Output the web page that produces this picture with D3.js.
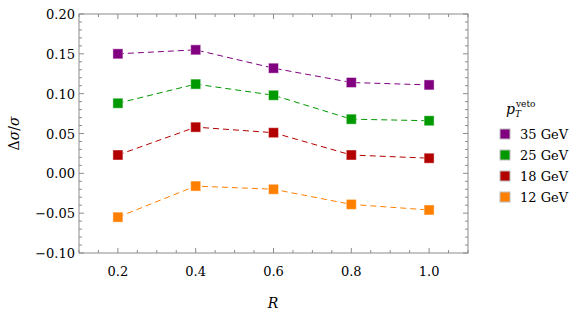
<!doctype html>
<html lang='en'>
  <head>
    <meta charset="utf-8">
    <script src="https://d3js.org/d3.v7.min.js"></script>
    <title>Delta sigma vs R</title>
  <style>
  body{
    margin: 0;
    background: white;
  }
  svg text {
    font-family: "DejaVu Serif", serif !important;
  }
  </style>
  </head>
  <body>
    <div id='chart'></div>
    <script>
    // data
    const rValues = [0.2, 0.4, 0.6, 0.8, 1.0];
    const vetoLabels = ['35 GeV', '25 GeV', '18 GeV', '12 GeV'];
    const pt35 = [0.150, 0.155, 0.132, 0.114, 0.111];
    const pt25 = [0.088, 0.112, 0.098, 0.068, 0.066];
    const pt18 = [0.023, 0.058, 0.051, 0.023, 0.019];
    const pt12 = [-0.055, -0.016, -0.020, -0.039, -0.046];
    const xTicks = [0.2, 0.4, 0.6, 0.8, 1.0];
    const yTicks = [-0.10, -0.05, 0.00, 0.05, 0.10, 0.15, 0.20];

    const colors = ['#800080', '#009900', '#b30000', '#ff8000'];
    const series = [pt35, pt25, pt18, pt12];

    const wsvg = 581, hsvg = 315;
    const padLeft = 79, padRight = 468, padTop = 14, padBottom = 253;
    const fontSize = 13;

    const svg = d3.select('#chart')
                  .append('svg')
                  .attr('width', wsvg)
                  .attr('height', hsvg);

    const xScale = d3.scaleLinear()
                    .domain([0.1, 1.1])
                    .range([padLeft, padRight]);

    const yScale = d3.scaleLinear()
                    .domain([-0.10, 0.20])
                    .range([padBottom, padTop]);

    const frameColor = '#8c8c8c';
    const minorX = d3.range(0.1, 1.1001, 0.05).map(d => +d.toFixed(2));
    const minorY = d3.range(-0.10, 0.2001, 0.01).map(d => +d.toFixed(2));

    // frame
    svg.append('rect')
        .attr('x', padLeft).attr('y', padTop)
        .attr('width', padRight-padLeft).attr('height', padBottom-padTop)
        .attr('fill', 'none')
        .attr('stroke', frameColor)
        .attr('stroke-width', 1);

    const isMajor = (v, list) => list.some(t => Math.abs(t-v) < 1e-6);

    // x ticks on bottom and top
    minorX.forEach(v => {
      const len = isMajor(v, xTicks) ? 5 : 3;
      const x = xScale(v);
      svg.append('line').attr('x1', x).attr('x2', x).attr('y1', padBottom).attr('y2', padBottom-len)
         .attr('stroke', frameColor);
      svg.append('line').attr('x1', x).attr('x2', x).attr('y1', padTop).attr('y2', padTop+len)
         .attr('stroke', frameColor);
    });
    // y ticks on left and right
    minorY.forEach(v => {
      const len = isMajor(v, yTicks) ? 5 : 3;
      const y = yScale(v);
      svg.append('line').attr('x1', padLeft).attr('x2', padLeft+len).attr('y1', y).attr('y2', y)
         .attr('stroke', frameColor);
      svg.append('line').attr('x1', padRight).attr('x2', padRight-len).attr('y1', y).attr('y2', y)
         .attr('stroke', frameColor);
    });

    svg.selectAll('.xlab')
        .data(xTicks)
        .enter()
        .append('text')
        .attr('x', d => xScale(d))
        .attr('y', padBottom+23)
        .attr('text-anchor', 'middle')
        .attr('font-size', fontSize)
        .text(d3.format('.1f'));

    svg.selectAll('.ylab')
        .data(yTicks)
        .enter()
        .append('text')
        .attr('x', padLeft-4)
        .attr('y', d => yScale(d)+5)
        .attr('text-anchor', 'end')
        .attr('font-size', fontSize)
        .text(d => d < 0 ? '\u2212' + d3.format('.2f')(-d) : d3.format('.2f')(d));

    // axis labels
    svg.append('text')
        .attr('x', 273).attr('y', 308)
        .attr('font-size', fontSize+1)
        .attr('font-style', 'italic')
        .attr('text-anchor', 'middle')
        .text('R');

    svg.append('text')
        .attr('transform', 'translate(19,' + (padTop+padBottom)/2 + ') rotate(-90)')
        .attr('font-size', fontSize+1)
        .attr('text-anchor', 'middle')
        .html('\u0394<tspan font-style="italic">\u03c3</tspan>/<tspan font-style="italic">\u03c3</tspan>');

    // dashed lines and markers
    const line = d3.line()
                   .x((d, i) => xScale(rValues[i]))
                   .y(d => yScale(d));

    series.forEach((s, k) => {
      svg.append('path')
          .attr('d', line(s))
          .attr('fill', 'none')
          .attr('stroke', colors[k])
          .attr('stroke-width', 1)
          .attr('stroke-dasharray', '6,4');

      svg.selectAll('.m' + k)
          .data(s)
          .enter()
          .append('rect')
          .attr('x', (d, i) => xScale(rValues[i]) - 5)
          .attr('y', d => yScale(d) - 5)
          .attr('width', 10)
          .attr('height', 10)
          .attr('fill', colors[k])
          .attr('stroke', 'white')
          .attr('stroke-opacity', 0.45)
          .attr('stroke-width', 1);
    });

    // legend
    const legend = svg.append('g');
    legend.append('text')
        .attr('x', 506).attr('y', 114)
        .attr('font-size', fontSize+1)
        .html('<tspan font-style="italic">p</tspan><tspan font-style="italic" font-size="9" dy="3">T</tspan><tspan font-size="9" dx="-5" dy="-10">veto</tspan>');

    legend.selectAll('rect')
        .data(vetoLabels)
        .enter()
        .append('rect')
        .attr('x', 500)
        .attr('y', (d, i) => 129 + i*21)
        .attr('width', 10)
        .attr('height', 10)
        .attr('fill', (d, i) => colors[i])
        .attr('stroke', '#bbb')
        .attr('stroke-width', 1);

    legend.selectAll('.lt')
        .data(vetoLabels)
        .enter()
        .append('text')
        .attr('x', 520)
        .attr('y', (d, i) => 139 + i*21)
        .attr('font-size', fontSize)
        .text(d => d);
    </script>
  </body>
</html>
